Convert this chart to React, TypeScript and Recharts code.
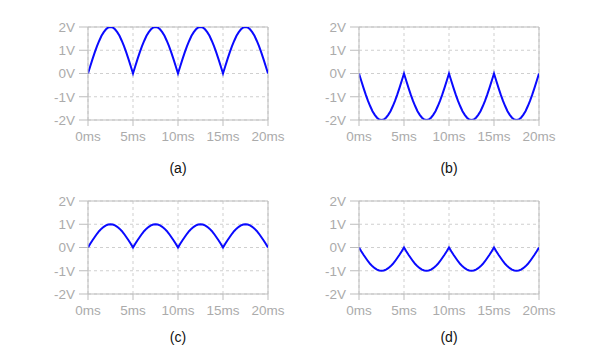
import React from 'react';
import { LineChart, Line, XAxis, YAxis, CartesianGrid, ReferenceLine } from 'recharts';

const timeMs = [
  0, 0.25, 0.5, 0.75, 1, 1.25, 1.5, 1.75, 2, 2.25, 2.5, 2.75, 3, 3.25, 3.5, 3.75, 4, 4.25, 4.5, 4.75,
  5, 5.25, 5.5, 5.75, 6, 6.25, 6.5, 6.75, 7, 7.25, 7.5, 7.75, 8, 8.25, 8.5, 8.75, 9, 9.25, 9.5, 9.75,
  10, 10.25, 10.5, 10.75, 11, 11.25, 11.5, 11.75, 12, 12.25, 12.5, 12.75, 13, 13.25, 13.5, 13.75, 14, 14.25, 14.5, 14.75,
  15, 15.25, 15.5, 15.75, 16, 16.25, 16.5, 16.75, 17, 17.25, 17.5, 17.75, 18, 18.25, 18.5, 18.75, 19, 19.25, 19.5, 19.75,
  20,
];

const seriesA = [
  0, 0.31, 0.62, 0.91, 1.18, 1.41, 1.62, 1.78, 1.9, 1.98, 2, 1.98, 1.9, 1.78, 1.62, 1.41, 1.18, 0.91, 0.62, 0.31,
  0, 0.31, 0.62, 0.91, 1.18, 1.41, 1.62, 1.78, 1.9, 1.98, 2, 1.98, 1.9, 1.78, 1.62, 1.41, 1.18, 0.91, 0.62, 0.31,
  0, 0.31, 0.62, 0.91, 1.18, 1.41, 1.62, 1.78, 1.9, 1.98, 2, 1.98, 1.9, 1.78, 1.62, 1.41, 1.18, 0.91, 0.62, 0.31,
  0, 0.31, 0.62, 0.91, 1.18, 1.41, 1.62, 1.78, 1.9, 1.98, 2, 1.98, 1.9, 1.78, 1.62, 1.41, 1.18, 0.91, 0.62, 0.31,
  0,
];

const seriesB = [
  0, -0.31, -0.62, -0.91, -1.18, -1.41, -1.62, -1.78, -1.9, -1.98, -2, -1.98, -1.9, -1.78, -1.62, -1.41, -1.18, -0.91, -0.62, -0.31,
  0, -0.31, -0.62, -0.91, -1.18, -1.41, -1.62, -1.78, -1.9, -1.98, -2, -1.98, -1.9, -1.78, -1.62, -1.41, -1.18, -0.91, -0.62, -0.31,
  0, -0.31, -0.62, -0.91, -1.18, -1.41, -1.62, -1.78, -1.9, -1.98, -2, -1.98, -1.9, -1.78, -1.62, -1.41, -1.18, -0.91, -0.62, -0.31,
  0, -0.31, -0.62, -0.91, -1.18, -1.41, -1.62, -1.78, -1.9, -1.98, -2, -1.98, -1.9, -1.78, -1.62, -1.41, -1.18, -0.91, -0.62, -0.31,
  0,
];

const seriesC = [
  0, 0.16, 0.31, 0.45, 0.59, 0.71, 0.81, 0.89, 0.95, 0.99, 1, 0.99, 0.95, 0.89, 0.81, 0.71, 0.59, 0.45, 0.31, 0.16,
  0, 0.16, 0.31, 0.45, 0.59, 0.71, 0.81, 0.89, 0.95, 0.99, 1, 0.99, 0.95, 0.89, 0.81, 0.71, 0.59, 0.45, 0.31, 0.16,
  0, 0.16, 0.31, 0.45, 0.59, 0.71, 0.81, 0.89, 0.95, 0.99, 1, 0.99, 0.95, 0.89, 0.81, 0.71, 0.59, 0.45, 0.31, 0.16,
  0, 0.16, 0.31, 0.45, 0.59, 0.71, 0.81, 0.89, 0.95, 0.99, 1, 0.99, 0.95, 0.89, 0.81, 0.71, 0.59, 0.45, 0.31, 0.16,
  0,
];

const seriesD = [
  0, -0.16, -0.31, -0.45, -0.59, -0.71, -0.81, -0.89, -0.95, -0.99, -1, -0.99, -0.95, -0.89, -0.81, -0.71, -0.59, -0.45, -0.31, -0.16,
  0, -0.16, -0.31, -0.45, -0.59, -0.71, -0.81, -0.89, -0.95, -0.99, -1, -0.99, -0.95, -0.89, -0.81, -0.71, -0.59, -0.45, -0.31, -0.16,
  0, -0.16, -0.31, -0.45, -0.59, -0.71, -0.81, -0.89, -0.95, -0.99, -1, -0.99, -0.95, -0.89, -0.81, -0.71, -0.59, -0.45, -0.31, -0.16,
  0, -0.16, -0.31, -0.45, -0.59, -0.71, -0.81, -0.89, -0.95, -0.99, -1, -0.99, -0.95, -0.89, -0.81, -0.71, -0.59, -0.45, -0.31, -0.16,
  0,
];

const xTicks = [0, 5, 10, 15, 20];
const xTickLabels = ['0ms', '5ms', '10ms', '15ms', '20ms'];
const yTicks = [-2, -1, 0, 1, 2];
const yTickLabels = ['-2V', '-1V', '0V', '1V', '2V'];
const panelLabels = ['(a)', '(b)', '(c)', '(d)'];
const panelSeries = [seriesA, seriesB, seriesC, seriesD];

const GRAY = '#bdbdbd';
const TEXT_GRAY = '#ababab';
const BLUE = '#0a0aff';

function Panel({ values, left, top }: { values: number[]; left: number; top: number }) {
  const data = timeMs.map((t, i) => ({ t, v: values[i] }));
  return (
    <div style={{ position: 'absolute', left, top }}>
      <LineChart width={300} height={174} data={data} margin={{ top: 27, right: 32, left: 0, bottom: 24 }}>
        <CartesianGrid stroke="#cfcfcf" strokeDasharray="3 3" />
        <XAxis
          dataKey="t"
          type="number"
          domain={[0, 20]}
          ticks={xTicks}
          tickFormatter={(v: number) => xTickLabels[xTicks.indexOf(v)]}
          height={30}
          stroke={GRAY}
          tickSize={6}
          tickMargin={5}
          tick={{ fill: TEXT_GRAY, fontSize: 13.5 }}
          interval={0}
          allowDataOverflow
        />
        <YAxis
          type="number"
          domain={[-2, 2]}
          ticks={yTicks}
          tickFormatter={(v: number) => yTickLabels[yTicks.indexOf(v)]}
          width={88}
          stroke={GRAY}
          tickSize={9}
          tickMargin={4}
          tick={{ fill: TEXT_GRAY, fontSize: 13.5 }}
          interval={0}
          allowDataOverflow
        />
        <ReferenceLine y={2} stroke={GRAY} />
        <ReferenceLine x={20} stroke={GRAY} />
        <Line
          type="linear"
          dataKey="v"
          stroke={BLUE}
          strokeWidth={2}
          dot={false}
          isAnimationActive={false}
        />
      </LineChart>
    </div>
  );
}

export default function App() {
  const positions = [
    { left: 0, top: 0, labelTop: 160 },
    { left: 271, top: 0, labelTop: 160 },
    { left: 0, top: 174, labelTop: 329 },
    { left: 271, top: 174, labelTop: 329 },
  ];
  return (
    <div
      style={{
        position: 'absolute',
        left: 0,
        top: 0,
        width: 600,
        height: 360,
        background: '#fff',
        fontFamily: '"Liberation Sans", Arial, sans-serif',
      }}
    >
      {panelSeries.map((s, i) => (
        <Panel key={i} values={s} left={positions[i].left} top={positions[i].top} />
      ))}
      {panelLabels.map((lab, i) => (
        <div
          key={lab}
          style={{
            position: 'absolute',
            left: positions[i].left + 88,
            top: positions[i].labelTop,
            width: 180,
            textAlign: 'center',
            fontSize: 14,
            lineHeight: '16px',
            color: '#111',
          }}
        >
          {lab}
        </div>
      ))}
    </div>
  );
}
